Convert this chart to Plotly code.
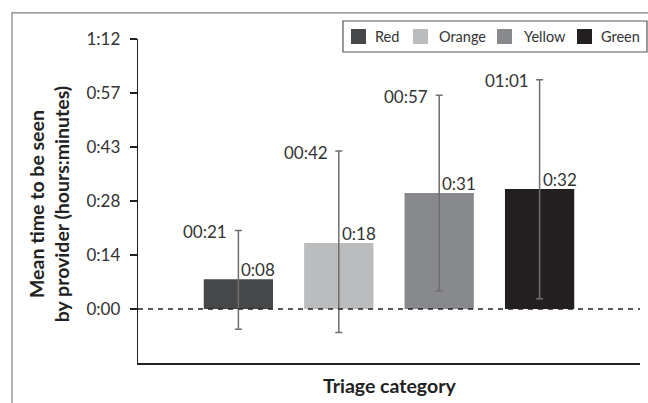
import plotly.graph_objects as go

# ---- data (minutes) ----
categories = ["Red", "Orange", "Yellow", "Green"]
mean_minutes = [7.9, 17.6, 30.9, 32.0]
upper_minutes = [20.9, 42.1, 57.0, 61.1]
lower_minutes = [-5.4, -6.3, 4.8, 2.7]
mean_labels = ["0:08", "0:18", "0:31", "0:32"]
upper_labels = ["00:21", "00:42", "00:57", "01:01"]
bar_colors = ["#464749", "#BBBCBE", "#88898C", "#231F20"]
tick_vals = [0, 14.4, 28.8, 43.2, 57.6, 72]
tick_text = ["0:00", "0:14", "0:28", "0:43", "0:57", "1:12"]

W, H = 648, 403
# plot area in window pixels: x 138..640, y 39..362.6
L = 138
T = 39
R = W - 640
B = H - 362.6
FONT = "Lato, 'Open Sans', sans-serif"

pw = W - L - R
ph = H - T - B


def px_x(wx):
    return (wx - L) / pw


def px_y(wy):
    return (H - B - wy) / ph


fig = go.Figure()
for i, cat in enumerate(categories):
    fig.add_trace(go.Bar(
        x=[i], y=[mean_minutes[i]], name=cat,
        marker=dict(color=bar_colors[i], line=dict(width=0)),
        width=0.69, showlegend=False,
        error_y=dict(type="data", symmetric=False,
                     array=[upper_minutes[i] - mean_minutes[i]],
                     arrayminus=[mean_minutes[i] - lower_minutes[i]],
                     color="#6f6f6f", thickness=1.5, width=3.5),
    ))

annotations = []
for i in range(len(categories)):
    annotations.append(dict(x=i, y=upper_minutes[i], xref="x", yref="y",
                            text=upper_labels[i], showarrow=False,
                            xanchor="right", yanchor="middle", xshift=-9, yshift=-1,
                            font=dict(family=FONT, size=17, color="#333333")))
    annotations.append(dict(x=i, y=mean_minutes[i], xref="x", yref="y",
                            text=mean_labels[i], showarrow=False,
                            xanchor="left", yanchor="middle", xshift=1, yshift=10,
                            font=dict(family=FONT, size=17, color="#333333")))

annotations.append(dict(x=px_x(49), y=px_y(204), xref="paper", yref="paper",
                        text="<b>Mean time to be seen<br>by provider (hours:minutes)</b>",
                        textangle=-90, showarrow=False, xanchor="center", yanchor="middle",
                        font=dict(family=FONT, size=19.5, color="#222222")))
annotations.append(dict(x=0.5, y=px_y(385), xref="paper", yref="paper",
                        text="<b>Triage category</b>", showarrow=False,
                        xanchor="center", yanchor="middle",
                        font=dict(family=FONT, size=19.5, color="#222222")))

shapes = [
    # dashed zero line
    dict(type="line", xref="paper", yref="y", x0=0, x1=1, y0=0, y1=0,
         line=dict(color="#222222", width=1.3, dash="5px,5px"), layer="above"),
    # outer frame
    dict(type="rect", xref="paper", yref="paper",
         x0=px_x(12), x1=1.2, y0=-0.3, y1=px_y(13),
         line=dict(color="#808080", width=1.2), fillcolor="rgba(0,0,0,0)"),
    # legend box
    dict(type="rect", xref="paper", yref="paper",
         x0=px_x(343), x1=px_x(647), y0=px_y(52), y1=px_y(21),
         line=dict(color="#555555", width=1.2), fillcolor="white"),
]

# legend key positions (window px): swatch left edges and label left edges
legend_swatch_x = [351, 413, 497, 577]
legend_text_x = [373, 437, 522, 599]
for i, cat in enumerate(categories):
    shapes.append(dict(type="rect", xref="paper", yref="paper",
                       x0=px_x(legend_swatch_x[i]), x1=px_x(legend_swatch_x[i] + 15),
                       y0=px_y(44), y1=px_y(29),
                       line=dict(width=0), fillcolor=bar_colors[i]))
    annotations.append(dict(x=px_x(legend_text_x[i]), y=px_y(36.5), xref="paper", yref="paper",
                            text=cat, showarrow=False, xanchor="left", yanchor="middle",
                            font=dict(family=FONT, size=14.5, color="#333333")))

fig.update_layout(
    width=W, height=H,
    margin=dict(l=L, r=R, t=T, b=B, autoexpand=False),
    paper_bgcolor="white", plot_bgcolor="white",
    font=dict(family=FONT, size=16, color="#333333"),
    showlegend=False,
    annotations=annotations,
    shapes=shapes,
    bargap=0.3,
)
fig.update_xaxes(range=[-1, 4], showgrid=False, zeroline=False, showticklabels=False,
                 ticks="", showline=True, linecolor="#222222", linewidth=1.5, fixedrange=True)
fig.update_yaxes(range=[-14.4, 72], tickvals=tick_vals, ticktext=tick_text,
                 showgrid=False, zeroline=False, showline=True, linecolor="#222222",
                 linewidth=1.3, ticks="outside", ticklen=7, tickcolor="#222222",
                 tickwidth=1.3, ticklabelstandoff=6,
                 tickfont=dict(family=FONT, size=17, color="#333333"), fixedrange=True)

fig.write_html(
    "out.html",
    config={"displayModeBar": False, "staticPlot": True},
    post_script="document.body.style.margin='0';"
                "document.documentElement.style.overflow='hidden';"
                "document.body.style.overflow='hidden';",
)
